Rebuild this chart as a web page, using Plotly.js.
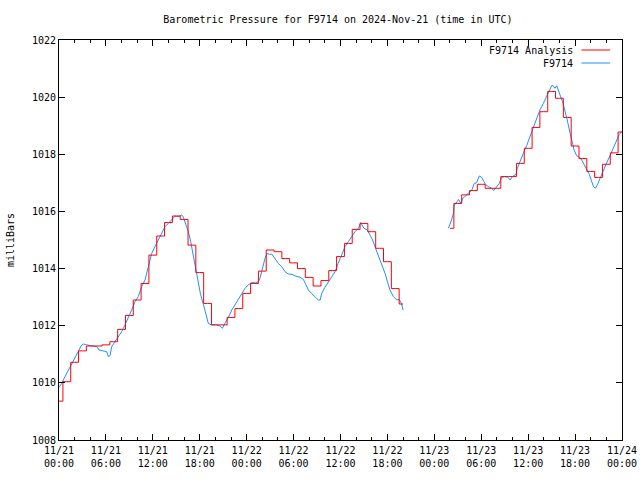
<!DOCTYPE html>
<html>
<head>
<meta charset="utf-8">
<script src="https://cdn.plot.ly/plotly-3.0.1.min.js"></script>
<style>html,body{margin:0;padding:0;background:#fff;}#chart{width:640px;height:480px;}</style>
</head>
<body>
<div id="chart"></div>
<script>
// Hours after 2024-11-21 00:00 UTC
const tickHours = [0, 6, 12, 18, 24, 30, 36, 42, 48, 54, 60, 66, 72];
const tickDates = ["11/21","11/21","11/21","11/21","11/22","11/22","11/22","11/22","11/23","11/23","11/23","11/23","11/24"];
const tickTimes = ["00:00","06:00","12:00","18:00","00:00","06:00","12:00","18:00","00:00","06:00","12:00","18:00","00:00"];

// F9714 Analysis (hourly)
const analysisHours = [0,1,2,3,4,5,6,7,8,9,10,11,12,13,14,15,16,17,18,19,20,21,22,23,24,25,26,27,28,29,30,31,32,33,34,35,36,37,38,39,40,41,42,43,44,
  47,
  50,51,52,53,54,55,56,57,58,59,60,61,62,63,64,65,66,67,68,69,70,71,72];
const analysisPressure = [1009.36,1010.04,1010.72,1011.12,1011.29,1011.29,1011.33,1011.44,1011.87,1012.36,1012.9,1013.48,1014.47,1015.14,1015.61,1015.84,1015.72,1014.82,1013.86,1012.78,1012.03,1012.03,1012.29,1012.6,1013.13,1013.48,1013.91,1014.65,1014.59,1014.35,1014.2,1014.0,1013.69,1013.39,1013.58,1013.93,1014.42,1014.88,1015.37,1015.58,1015.29,1014.71,1014.24,1013.3,1012.76,
  null,
  1015.41,1016.28,1016.58,1016.73,1016.95,1016.81,1016.81,1017.22,1017.22,1017.68,1018.21,1018.94,1019.49,1020.2,1019.96,1019.29,1018.29,1017.85,1017.4,1017.19,1017.65,1018.05,1018.78];

// F9714 observations
const obsHours = [0.0,0.34,0.77,1.11,1.41,1.83,2.26,2.56,2.81,3.11,3.54,4.18,4.82,5.12,5.46,6.1,6.31,6.52,6.74,7.16,7.59,8.01,8.44,8.86,9.29,9.72,10.14,10.57,11.0,11.43,11.85,12.28,12.71,13.13,13.56,13.99,14.41,14.84,15.26,15.69,15.9,16.24,16.54,16.84,17.18,17.52,17.82,18.1,18.46,18.8,19.1,19.5,20.1,20.6,20.9,21.2,21.66,22.1,22.5,22.93,23.36,23.8,24.2,24.64,25.1,25.5,25.7,26.05,26.35,26.64,26.9,27.2,27.6,28.05,28.48,28.9,29.33,29.8,30.2,30.8,31.25,31.6,31.9,32.3,32.74,33.16,33.4,33.6,34.0,34.45,34.87,35.3,35.7,36.15,36.58,37.0,37.43,37.86,38.28,38.58,39.0,39.43,39.78,40.1,40.4,40.7,41.05,41.4,41.7,42.0,42.33,42.76,43.2,43.5,43.8,44.0,
  47,
  49.8,50.0,50.2,50.43,50.56,50.9,51.1,51.4,51.63,51.9,52.35,52.8,53.1,53.4,53.75,54.06,54.35,54.6,54.9,55.34,55.6,55.97,56.3,56.6,57.0,57.4,57.7,58.0,58.45,58.6,58.95,59.4,59.8,60.24,60.66,61.1,61.5,61.94,62.37,62.7,63.0,63.2,63.43,63.65,63.86,64.07,64.4,64.7,65.0,65.27,65.57,65.87,66.2,66.55,66.85,67.15,67.5,67.82,68.1,68.35,68.6,68.85,69.2,69.6,70.04,70.5,70.9,71.3,71.65,71.96];
const obsPressure = [1009.84,1009.98,1010.22,1010.39,1010.57,1010.74,1010.97,1011.15,1011.29,1011.36,1011.33,1011.3,1011.27,1011.15,1011.13,1011.09,1010.92,1010.95,1011.27,1011.44,1011.62,1011.79,1012.03,1012.32,1012.55,1012.84,1013.02,1013.37,1013.6,1014.07,1014.53,1014.77,1015.0,1015.23,1015.47,1015.58,1015.7,1015.84,1015.82,1015.88,1015.8,1015.53,1015.29,1014.95,1014.47,1013.95,1013.6,1013.1,1012.75,1012.35,1012.08,1012.03,1012.03,1011.99,1011.91,1012.08,1012.29,1012.55,1012.72,1012.9,1013.13,1013.31,1013.43,1013.51,1013.5,1013.54,1013.66,1014.0,1014.36,1014.53,1014.5,1014.51,1014.36,1014.18,1014.07,1013.89,1013.81,1013.8,1013.74,1013.7,1013.62,1013.43,1013.25,1013.13,1013.02,1012.9,1012.9,1013.13,1013.34,1013.54,1013.74,1013.89,1014.18,1014.47,1014.77,1014.94,1015.12,1015.29,1015.41,1015.61,1015.41,1015.35,1015.17,1015.0,1014.77,1014.56,1014.32,1014.07,1013.83,1013.54,1013.25,1013.02,1012.9,1012.92,1012.78,1012.55,
  null,
  1015.41,1015.53,1015.7,1015.93,1016.22,1016.34,1016.42,1016.28,1016.46,1016.52,1016.63,1016.75,1016.98,1017.0,1017.24,1017.19,1017.04,1016.93,1016.87,1016.81,1016.73,1016.87,1016.98,1017.19,1017.22,1017.2,1017.1,1017.22,1017.3,1017.5,1017.77,1018.05,1018.3,1018.63,1018.97,1019.32,1019.55,1019.78,1020.02,1020.23,1020.4,1020.4,1020.31,1020.4,1020.27,1020.08,1019.84,1019.55,1019.2,1018.85,1018.44,1018.15,1017.95,1017.9,1017.8,1017.65,1017.5,1017.3,1017.07,1016.87,1016.81,1016.93,1017.16,1017.45,1017.7,1017.97,1018.21,1018.47,1018.7,1018.79];

const seriesNames = ["F9714 Analysis", "F9714"];
const seriesColors = ["#ff0000", "#1e90ff"];

const FONT = "DejaVu Sans Mono, Liberation Mono, monospace";
const tickText = tickDates.map((d, i) => d + "<br>" + tickTimes[i]);

const traces = [
  {x: obsHours, y: obsPressure, type: "scatter", mode: "lines", name: seriesNames[1],
   line: {color: seriesColors[1], width: 1}, connectgaps: false},
  {x: analysisHours, y: analysisPressure, type: "scatter", mode: "lines", name: seriesNames[0],
   line: {color: seriesColors[0], width: 1, shape: "hvh"}, connectgaps: false}
];

// legend drawn gnuplot-style (text left of the line sample)
const legY = [0.975, 0.9425];
const annotations = seriesNames.map((n, i) => ({
  text: n, xref: "paper", yref: "paper", x: 0.9165, y: legY[i],
  xanchor: "right", yanchor: "middle", showarrow: false,
  font: {family: FONT, size: 10, color: "#000"}
}));
const shapes = seriesNames.map((n, i) => ({
  type: "line", xref: "paper", yref: "paper", x0: 0.928, x1: 0.979, y0: legY[i], y1: legY[i],
  line: {color: seriesColors[i], width: 1}
}));

const layout = {
  width: 640, height: 480,
  margin: {l: 59, r: 18, t: 40, b: 40, pad: 0},
  paper_bgcolor: "#ffffff", plot_bgcolor: "#ffffff",
  showlegend: false,
  font: {family: FONT, size: 10, color: "#000"},
  title: {text: "Barometric Pressure for F9714 on 2024-Nov-21 (time in UTC)",
          x: 0.528, xref: "container", xanchor: "center", y: 0.96, yanchor: "middle",
          font: {family: FONT, size: 10, color: "#000"}},
  xaxis: {range: [0, 72], tickmode: "array", tickvals: tickHours, ticktext: tickText,
          ticks: "inside", ticklen: 6, tickcolor: "#000", tickwidth: 1, ticklabelstandoff: 1,
          minor: {tickmode: "linear", tick0: 0, dtick: 2, ticks: "inside", ticklen: 3, tickcolor: "#000"},
          showline: true, linecolor: "#000", linewidth: 1, mirror: "ticks",
          showgrid: false, zeroline: false, fixedrange: true,
          tickfont: {family: FONT, size: 10, color: "#000"}},
  yaxis: {range: [1008, 1022], tickmode: "linear", tick0: 1008, dtick: 2,
          ticks: "inside", ticklen: 6, tickcolor: "#000", tickwidth: 1,
          showline: true, linecolor: "#000", linewidth: 1, mirror: "ticks",
          showgrid: false, zeroline: false, fixedrange: true,
          tickfont: {family: FONT, size: 10, color: "#000"},
          title: {text: "milliBars", standoff: 15, font: {family: FONT, size: 10, color: "#000"}}},
  annotations: annotations,
  shapes: shapes
};

Plotly.newPlot("chart", traces, layout, {staticPlot: true, displayModeBar: false});
</script>
</body>
</html>
